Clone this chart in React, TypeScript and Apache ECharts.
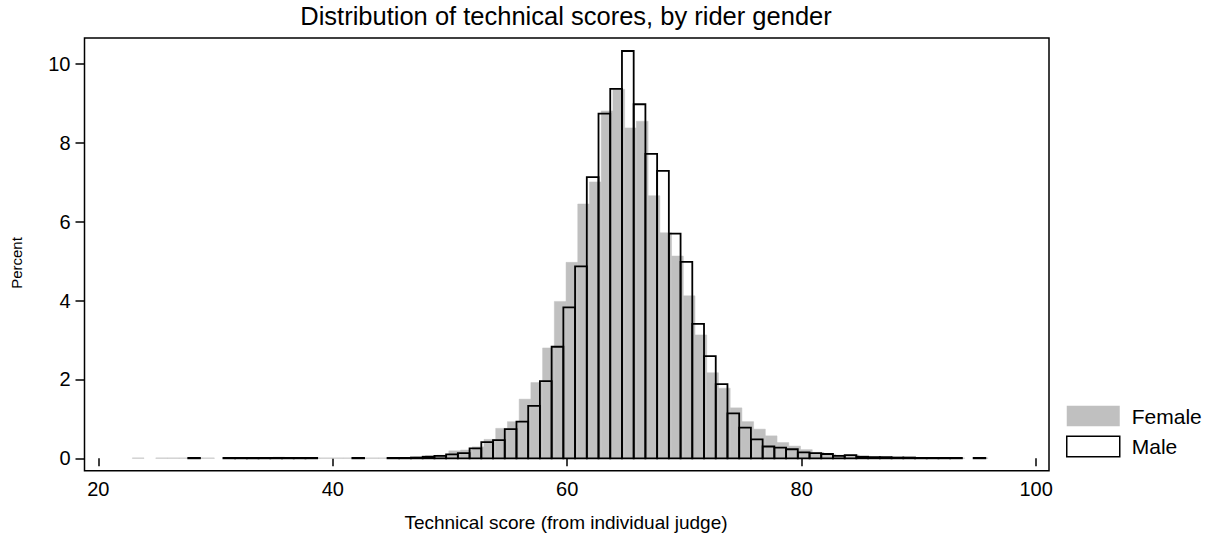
import React, { useEffect, useRef } from "react";
import * as echarts from "echarts";

// Histogram bins are 1 point wide; each group starts at its own lowest score.
const BIN_WIDTH = 1;
const FEMALE_FIRST_EDGE = 22.9;
const MALE_FIRST_EDGE = 27.67;

// Percent of scores per bin, from the first edge upward.
const femalePercent = [
  0.01, 0, 0.01, 0.01, 0.01, 0.01, 0.01, 0, 0.01, 0.01,
  0.01, 0.01, 0.03, 0.01, 0.01, 0.01, 0.01, 0.01, 0.01, 0.01,
  0.01, 0.01, 0.02, 0.02, 0.03, 0.07, 0.08, 0.19, 0.21, 0.29,
  0.48, 0.76, 0.93, 1.5, 1.92, 2.8, 3.98, 4.97, 6.45, 7.01,
  8.81, 9.36, 8.38, 8.55, 6.66, 5.72, 5.13, 4.12, 3.13, 2.17,
  1.78, 1.28, 0.93, 0.74, 0.57, 0.4, 0.31, 0.22, 0.15, 0.1,
  0.08, 0.08, 0.05, 0.04, 0.03, 0.02, 0.02, 0.01, 0.01, 0.01,
  0.01, 0, 0.01,
];

const malePercent = [
  0.01, 0, 0, 0.01, 0.01, 0.01, 0.01, 0.01, 0.01, 0.01,
  0.01, 0, 0, 0, 0.01, 0, 0, 0.01, 0.01, 0.02,
  0.04, 0.06, 0.1, 0.13, 0.25, 0.41, 0.46, 0.74, 0.93, 1.33,
  1.96, 2.83, 3.83, 4.87, 7.13, 8.74, 9.37, 10.33, 8.98, 7.72,
  7.29, 5.7, 4.98, 3.41, 2.59, 1.88, 1.14, 0.78, 0.48, 0.3,
  0.27, 0.23, 0.15, 0.13, 0.11, 0.06, 0.08, 0.04, 0.03, 0.03,
  0.02, 0.02, 0.01, 0.01, 0.01, 0.01, 0, 0.01,
];

const xTicks = [20, 40, 60, 80, 100];
const yTicks = [0, 2, 4, 6, 8, 10];

const TITLE = "Distribution of technical scores, by rider gender";
const X_TITLE = "Technical score (from individual judge)";
const Y_TITLE = "Percent";

const FONT = "'Liberation Sans', Arial, Helvetica, sans-serif";
const GRAY = "#c0c0c0";

// [left edge, right edge, percent]; empty bins are not drawn.
function toBins(first: number, values: number[]) {
  const out: number[][] = [];
  values.forEach((v, i) => {
    if (v > 0) {
      const lo = first + i * BIN_WIDTH;
      out.push([lo, lo + BIN_WIDTH, v]);
    }
  });
  return out;
}

function barRenderer(style: any) {
  return (_params: any, api: any) => {
    const topLeft = api.coord([api.value(0), api.value(2)]);
    const bottomRight = api.coord([api.value(1), 0]);
    return {
      type: "rect",
      shape: {
        x: topLeft[0],
        y: topLeft[1],
        width: bottomRight[0] - topLeft[0],
        height: Math.max(bottomRight[1] - topLeft[1], 0.3),
      },
      style,
    };
  };
}

export default function App() {
  const ref = useRef<HTMLDivElement>(null);

  useEffect(() => {
    if (!ref.current) return;
    const chart = echarts.init(ref.current, null, { renderer: "svg" });

    chart.setOption({
      animation: false,
      backgroundColor: "#ffffff",
      title: {
        text: TITLE,
        left: 566,
        top: 3,
        padding: 0,
        textAlign: "center",
        textStyle: {
          fontFamily: FONT,
          fontSize: 25.5,
          fontWeight: "normal",
          color: "#000",
        },
      },
      grid: {
        left: 84.5,
        right: 168,
        top: 38,
        bottom: 64.3,
        show: true,
        borderColor: "#000",
        borderWidth: 1.5,
        backgroundColor: "transparent",
      },
      legend: {
        orient: "vertical",
        left: 1066,
        top: 405.5,
        padding: 0,
        itemWidth: 53,
        itemHeight: 20.5,
        itemGap: 9,
        selectedMode: false,
        textStyle: {
          fontFamily: FONT,
          fontSize: 21,
          color: "#000",
          padding: [0, 0, 0, 7],
        },
        data: [
          {
            name: "Female",
            icon: "rect",
            itemStyle: { color: GRAY, borderWidth: 0 },
          },
          {
            name: "Male",
            icon: "rect",
            itemStyle: { color: "#ffffff", borderColor: "#000", borderWidth: 1.5 },
          },
        ],
      },
      xAxis: {
        type: "value",
        min: 18.82,
        max: 101.1,
        axisLine: { show: false },
        splitLine: { show: false },
        axisTick: {
          show: true,
          customValues: xTicks,
          length: 8,
          lineStyle: { color: "#000", width: 1.5 },
        },
        axisLabel: {
          customValues: xTicks,
          fontFamily: FONT,
          fontSize: 20,
          color: "#000",
          margin: 8,
        },
      },
      yAxis: {
        type: "value",
        min: -0.314,
        max: 10.66,
        axisLine: { show: false },
        splitLine: { show: false },
        axisTick: {
          show: true,
          customValues: yTicks,
          length: 9,
          lineStyle: { color: "#000", width: 1.5 },
        },
        axisLabel: {
          customValues: yTicks,
          fontFamily: FONT,
          fontSize: 20,
          color: "#000",
          margin: 14,
        },
      },
      graphic: [
        {
          type: "text",
          x: 566,
          y: 522,
          style: {
            text: X_TITLE,
            fontFamily: FONT,
            fontSize: 19,
            fill: "#000",
            align: "center",
            verticalAlign: "middle",
          },
        },
        {
          type: "text",
          x: 16,
          y: 263,
          rotation: Math.PI / 2,
          style: {
            text: Y_TITLE,
            fontFamily: FONT,
            fontSize: 15,
            fill: "#000",
            align: "center",
            verticalAlign: "middle",
          },
        },
      ],
      series: [
        {
          name: "Female",
          type: "custom",
          renderItem: barRenderer({ fill: GRAY, stroke: GRAY, lineWidth: 0.5 }),
          encode: { x: [0, 1], y: 2 },
          data: toBins(FEMALE_FIRST_EDGE, femalePercent),
          itemStyle: { color: GRAY },
          z: 2,
        },
        {
          name: "Male",
          type: "custom",
          renderItem: barRenderer({ fill: "none", stroke: "#000", lineWidth: 1.8 }),
          encode: { x: [0, 1], y: 2 },
          data: toBins(MALE_FIRST_EDGE, malePercent),
          itemStyle: { color: "#ffffff", borderColor: "#000" },
          z: 3,
        },
      ],
    });

    return () => chart.dispose();
  }, []);

  return (
    <div
      ref={ref}
      style={{ position: "absolute", left: 0, top: 0, width: 1217, height: 535 }}
    />
  );
}
